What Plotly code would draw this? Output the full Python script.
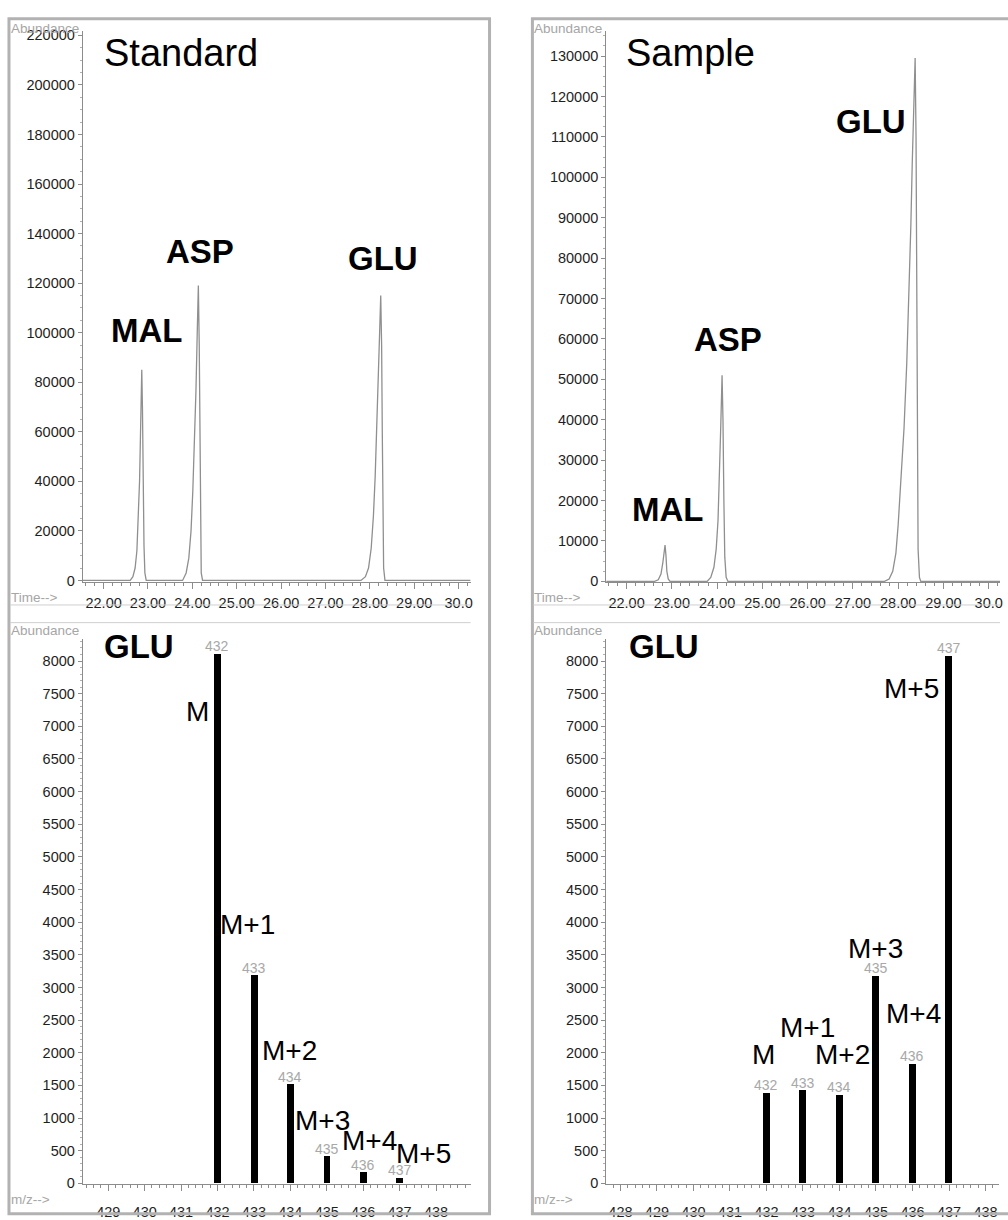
import plotly.graph_objects as go

# ---------------- data ----------------
# Total ion chromatograms (retention time in min, abundance)
std_time = [21.53, 22.60, 22.66, 22.71, 22.75, 22.78, 22.81, 22.83, 22.85, 22.86, 22.875, 22.89, 22.91, 22.93, 22.96,
            23.78, 23.86, 23.92, 23.97, 24.01, 24.05, 24.08, 24.11, 24.135, 24.155, 24.17, 24.185, 24.20, 24.23,
            27.80, 27.90, 27.97, 28.03, 28.08, 28.12, 28.16, 28.19, 28.22, 28.245, 28.265, 28.28, 28.295, 28.31, 28.34,
            30.27]
std_abund = [0, 0, 1500, 5000, 12000, 24000, 40000, 58000, 78000, 85000, 70000, 40000, 14000, 3000, 0,
             0, 3000, 9000, 20000, 36000, 56000, 76000, 100000, 119000, 95000, 55000, 18000, 3000, 0,
             0, 1500, 5000, 13000, 26000, 42000, 62000, 80000, 100000, 115000, 95000, 60000, 20000, 5000, 0,
             0]

smp_time = [21.55, 22.62, 22.70, 22.76, 22.80, 22.83, 22.85, 22.87, 22.89, 22.92, 22.96,
            23.78, 23.86, 23.93, 23.98, 24.02, 24.05, 24.08, 24.11, 24.13, 24.15, 24.17, 24.20, 24.24,
            27.70, 27.80, 27.88, 27.95, 28.00, 28.06, 28.13, 28.19, 28.24, 28.28, 28.31, 28.35, 28.375,
            28.395, 28.41, 28.425, 28.44, 28.47, 28.50,
            30.25]
smp_abund = [0, 0, 400, 1800, 4500, 7500, 9000, 6500, 2500, 600, 0,
             0, 1000, 3500, 8000, 15000, 25000, 38000, 51000, 40000, 20000, 6000, 1000, 0,
             0, 600, 2500, 7000, 14000, 24000, 38000, 54000, 71000, 88000, 103000, 120000, 129500,
             110000, 70000, 30000, 8000, 1000, 0,
             0]

# GLU mass spectra (m/z, abundance)
ms_mz = [432, 433, 434, 435, 436, 437]
ms_std = [8100, 3180, 1510, 410, 165, 80]
ms_smp = [1380, 1420, 1350, 3170, 1830, 8070]
iso_labels = ["M", "M+1", "M+2", "M+3", "M+4", "M+5"]

time_ticks = [22, 23, 24, 25, 26, 27, 28, 29, 30]
time_ticktext = ["22.00", "23.00", "24.00", "25.00", "26.00", "27.00", "28.00", "29.00", "30.0"]

W, H = 1008, 1220


def px(x, y):
    return x / W, 1 - y / H


FONT = "Liberation Sans, Arial, sans-serif"
AXIS_GREY = "#8c8c8c"
TICK_FONT = dict(family=FONT, size=14.5, color="#1e1e1e")

fig = go.Figure()

fig.add_trace(go.Scatter(x=std_time, y=std_abund, mode="lines",
                         line=dict(color="#8f8f8f", width=1.3), xaxis="x", yaxis="y"))
fig.add_trace(go.Scatter(x=smp_time, y=smp_abund, mode="lines",
                         line=dict(color="#8f8f8f", width=1.3), xaxis="x2", yaxis="y2"))
fig.add_trace(go.Bar(x=ms_mz, y=ms_std, width=0.19, marker=dict(color="black", line=dict(width=0)),
                     xaxis="x3", yaxis="y3"))
fig.add_trace(go.Bar(x=ms_mz, y=ms_smp, width=0.19, marker=dict(color="black", line=dict(width=0)),
                     xaxis="x4", yaxis="y4"))


def xaxis_style(x0, x1, rng, anchor, standoff, **kw):
    d = dict(domain=[x0 / W, x1 / W], range=rng, anchor=anchor,
             showgrid=False, zeroline=False, showline=True, linecolor=AXIS_GREY, linewidth=1,
             ticks="outside", ticklen=6, tickcolor=AXIS_GREY, tickwidth=1,
             tickfont=TICK_FONT, ticklabelstandoff=standoff,
             minor=dict(dtick=0.2, ticks="outside", ticklen=3, tickcolor=AXIS_GREY, tickwidth=1))
    d.update(kw)
    return d


def yaxis_style(y_top, y_bottom, rng, anchor, dtick, minor_dtick):
    return dict(domain=[1 - y_bottom / H, 1 - y_top / H], range=rng, anchor=anchor,
                showgrid=False, zeroline=False, showline=True, linecolor=AXIS_GREY, linewidth=1,
                ticks="outside", ticklen=4, tickcolor=AXIS_GREY, tickwidth=1,
                tickfont=TICK_FONT, tickformat="d", dtick=dtick, tick0=0,
                minor=dict(dtick=minor_dtick, ticks="outside", ticklen=2, tickcolor="#b0b0b0", tickwidth=1))


fig.update_layout(
    width=W, height=H, margin=dict(l=0, r=0, t=0, b=0),
    paper_bgcolor="white", plot_bgcolor="white", showlegend=False, bargap=0,
    xaxis=xaxis_style(83, 472, [21.53, 30.27], "y", 1,
                      tickmode="array", tickvals=time_ticks, ticktext=time_ticktext),
    yaxis=yaxis_style(28, 589, [-790, 221580], "x", 20000, 5000),
    xaxis2=xaxis_style(608, 1003, [21.55, 30.25], "y2", 1,
                       tickmode="array", tickvals=time_ticks, ticktext=time_ticktext),
    yaxis2=yaxis_style(28, 589, [-243, 136075], "x2", 10000, 2500),
    xaxis3=xaxis_style(83, 472, [428.3, 438.95], "y3", 8, dtick=1, tick0=0),
    yaxis3=yaxis_style(647, 1202, [-15, 8332], "x3", 500, 100),
    xaxis4=xaxis_style(608, 1002, [427.61, 438.37], "y4", 8, dtick=1, tick0=0),
    yaxis4=yaxis_style(647, 1202, [-15, 8332], "x4", 500, 100),
)

# panel frames and separators
shapes = []
FRAME = "#b2b2b2"
for fx0, fx1 in [(9, 491), (534, 1016)]:
    shapes.append(dict(type="rect", xref="paper", yref="paper",
                       x0=fx0 / W, x1=fx1 / W, y0=1 - 1232 / H, y1=1 - 15 / H,
                       line=dict(color=FRAME, width=3), fillcolor="rgba(0,0,0,0)"))
for lx0, lx1 in [(10, 472), (535, 1003)]:
    for ly in (612, 630):
        shapes.append(dict(type="line", xref="paper", yref="paper",
                           x0=lx0 / W, x1=lx1 / W, y0=1 - ly / H, y1=1 - ly / H,
                           line=dict(color="#cfcfcf", width=1)))
fig.update_layout(shapes=shapes)

ann = []


def text(x, y, s, size, color="black", bold=False, xanchor="left"):
    xp, yp = px(x, y)
    ann.append(dict(x=xp, y=yp, xref="paper", yref="paper", text=f"<b>{s}</b>" if bold else s,
                    showarrow=False, xanchor=xanchor, yanchor="middle", borderpad=0,
                    font=dict(family=FONT, size=size, color=color)))


GREY_TXT = "#a6a6a6"
# axis captions
for ax in (10, 535):
    text(ax, 25, "Abundance", 13.5, GREY_TXT)
    text(ax, 638, "Abundance", 13.5, GREY_TXT)
    text(ax, 604, "Time-->", 13.5, GREY_TXT)
    text(ax, 1217, "m/z-->", 13.5, GREY_TXT)

# panel titles
text(103, 50, "Standard", 38)
text(627, 50, "Sample", 38)

# chromatogram peak names
text(110, 333, "MAL", 33, bold=True)
text(165, 252, "ASP", 33, bold=True)
text(348, 259, "GLU", 33, bold=True)
text(633, 515, "MAL", 33, bold=True)
text(695, 342, "ASP", 33, bold=True)
text(910, 120, "GLU", 33, bold=True, xanchor="right")

# spectrum titles
text(103, 654, "GLU", 33, bold=True)
text(630, 654, "GLU", 33, bold=True)

# isotopologue labels
std_lab_pos = [(211, 720, "right"), (220, 937, "left"), (262, 1066, "left"),
               (295, 1137, "left"), (342, 1157, "left"), (396, 1171, "left")]
smp_lab_pos = [(753, 1070, "left"), (781, 1042, "left"), (816, 1070, "left"),
               (850, 962, "left"), (888, 1028, "left"), (886, 697, "left")]
for lab, (x, y, anc) in zip(iso_labels, std_lab_pos):
    text(x, y, lab, 28, xanchor=anc)
for lab, (x, y, anc) in zip(iso_labels, smp_lab_pos):
    text(x, y, lab, 28, xanchor=anc)

# m/z value above each bar
for xa, ya, vals in (("x3", "y3", ms_std), ("x4", "y4", ms_smp)):
    for mz, v in zip(ms_mz, vals):
        ann.append(dict(x=mz, y=v, xref=xa, yref=ya, text=str(mz), showarrow=False,
                        xanchor="center", yanchor="bottom", yshift=-1, borderpad=0,
                        font=dict(family=FONT, size=14, color="#a8a8a8")))

fig.update_layout(annotations=ann)

fig.write_html("out.html")
